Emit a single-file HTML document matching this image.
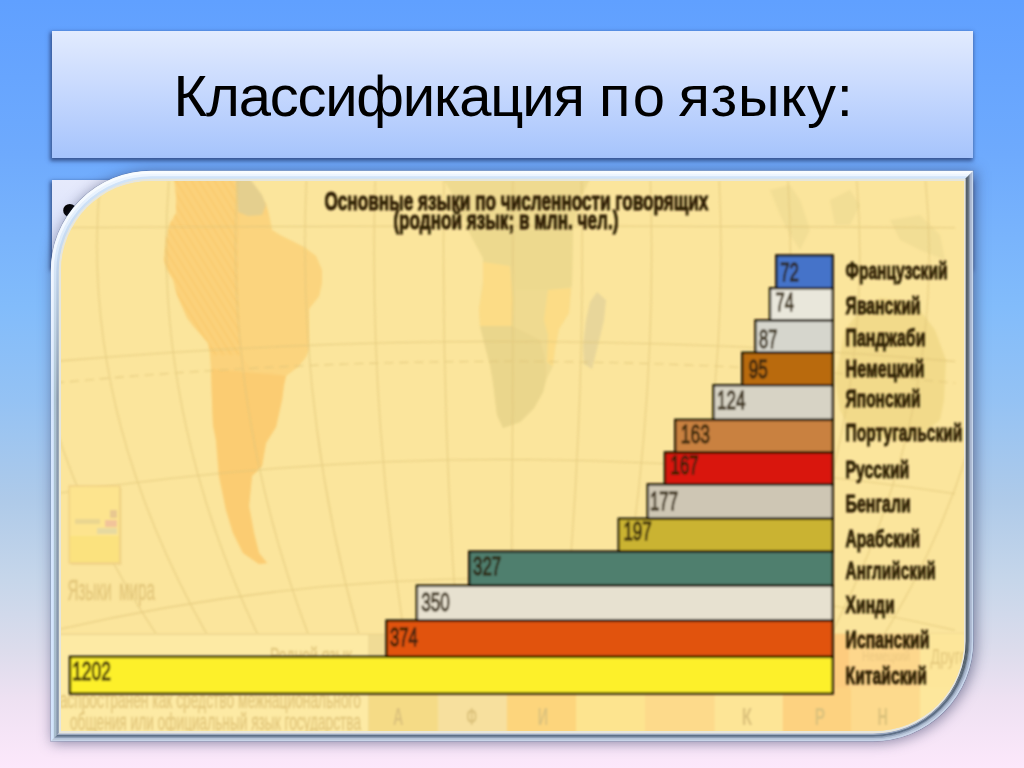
<!DOCTYPE html>
<html lang="ru"><head><meta charset="utf-8"><title>Классификация по языку</title>
<style>
html,body{margin:0;padding:0}
body{width:1024px;height:768px;overflow:hidden;position:relative;font-family:"Liberation Sans",sans-serif;
background:linear-gradient(to bottom,#60a0ff 0%,#6eaafd 20%,#82bcfb 40%,#94c2f4 52%,#aecae9 65%,#c6d6ea 75.5%,#dcdcec 84.6%,#eee1f2 91%,#fce8fb 100%)}
.title{position:absolute;left:52px;top:31px;width:921px;height:127px;
background:linear-gradient(to bottom,#e2ebfe 0%,#c6d8fe 48%,#a6c4fc 100%);
box-shadow:-1px 2px 4px 1px rgba(40,62,115,.78)}
.title h1{margin:0;position:absolute;left:0;right:0;top:0;height:127px;line-height:129px;font-weight:normal;font-size:58px;color:#000;white-space:nowrap}
.title h1 span{position:absolute;top:0}
.w1{left:121.5px;letter-spacing:-1.25px}
.w2{left:547px;letter-spacing:2.4px}
.w3{left:626.5px;letter-spacing:0.7px}
.content{position:absolute;left:52px;top:180px;width:921px;height:88px;
background:linear-gradient(to bottom,#e6eafc 0%,#d4defa 100%);box-shadow:-1px 2px 4px 1px rgba(40,62,115,.78)}
.content ul{margin:0;padding:0;list-style:none}
.content li{position:absolute;left:9.3px;top:-1.2px;font-size:49px;line-height:60px}
.shadow{position:absolute;left:51px;top:171px;width:922px;height:570px;border-radius:100px 0 100px 0;background:#dfe6f2;
box-shadow:0 0 0 .7px rgba(60,80,125,.4),2px 1px 13px 1px rgba(50,55,95,.55)}
.bevel{position:absolute;left:0;top:0;display:block}
.pic{position:absolute;left:61px;top:181px;width:903px;height:550px;border-radius:90px 0 90px 0;overflow:hidden;background:#fbe59c}
.chart{position:absolute;left:0;top:0;display:block;font-family:"Liberation Sans",sans-serif}
</style></head>
<body>
<div class="title"><h1><span class="w1">Классификация </span><span class="w2">по </span><span class="w3">языку:</span></h1></div>
<div class="content"><ul><li>•</li></ul></div>
<div class="shadow"></div>
<svg class="bevel" width="1024" height="768" viewBox="0 0 1024 768">
<defs><clipPath id="cl"><polygon points="0,0 1024,0 1024,120 973,171 873,271 151,641 51,741 0,792"/></clipPath><clipPath id="cd"><polygon points="1024,120 1024,800 0,800 0,792 51,741 151,641 873,271 973,171"/></clipPath><linearGradient id="gl1" gradientUnits="userSpaceOnUse" x1="0" y1="171" x2="0" y2="741"><stop offset="0" stop-color="#f8fcff"/><stop offset="0.2" stop-color="#eef5ff"/><stop offset="0.4" stop-color="#d6e7ff"/><stop offset="1" stop-color="#d2e4fc"/></linearGradient><linearGradient id="gl2" gradientUnits="userSpaceOnUse" x1="0" y1="171" x2="0" y2="741"><stop offset="0" stop-color="#eef6ff"/><stop offset="0.15" stop-color="#d8e8fa"/><stop offset="0.4" stop-color="#aec4d2"/><stop offset="1" stop-color="#a8bccc"/></linearGradient><linearGradient id="gl3" gradientUnits="userSpaceOnUse" x1="0" y1="171" x2="0" y2="741"><stop offset="0" stop-color="#d2e5fa"/><stop offset="0.15" stop-color="#c4d8f0"/><stop offset="0.4" stop-color="#8c9cae"/><stop offset="1" stop-color="#8696ac"/></linearGradient><linearGradient id="gd2" gradientUnits="userSpaceOnUse" x1="0" y1="171" x2="0" y2="741"><stop offset="0" stop-color="#7c8a98"/><stop offset="0.8" stop-color="#7c8a9c"/><stop offset="1" stop-color="#8c9cb8"/></linearGradient><linearGradient id="gd3" gradientUnits="userSpaceOnUse" x1="0" y1="171" x2="0" y2="741"><stop offset="0" stop-color="#46525b"/><stop offset="0.8" stop-color="#4c5866"/><stop offset="1" stop-color="#6a7e98"/></linearGradient></defs>
<g clip-path="url(#cl)">
<path d="M151.0,172.5 H971.5 V641.0 A98.5 98.5 0 0 1 873.0,739.5 H52.5 V271.0 A98.5 98.5 0 0 1 151.0,172.5 Z" fill="none" stroke="url(#gl1)" stroke-width="3.4" />
<path d="M151.0,175.25 H968.75 V641.0 A95.75 95.75 0 0 1 873.0,736.75 H55.25 V271.0 A95.75 95.75 0 0 1 151.0,175.25 Z" fill="none" stroke="url(#gl2)" stroke-width="2.9" />
<path d="M151.0,177.75 H966.25 V641.0 A93.25 93.25 0 0 1 873.0,734.25 H57.75 V271.0 A93.25 93.25 0 0 1 151.0,177.75 Z" fill="none" stroke="url(#gl3)" stroke-width="2.9" />
<path d="M151.0,180.15 H963.85 V641.0 A90.85 90.85 0 0 1 873.0,731.85 H60.15 V271.0 A90.85 90.85 0 0 1 151.0,180.15 Z" fill="none" stroke="#e6e6dc" stroke-width="2.7000000000000006" />
</g>
<g clip-path="url(#cd)">
<defs><linearGradient id="dg0" gradientUnits="userSpaceOnUse" x1="0" y1="171" x2="0" y2="741"><stop offset="0" stop-color="#c6d6ec"/><stop offset="0.84" stop-color="#c6d6ec"/><stop offset="0.975" stop-color="#c8d4e8"/><stop offset="1" stop-color="#c8d4e8"/></linearGradient><linearGradient id="dg1" gradientUnits="userSpaceOnUse" x1="0" y1="171" x2="0" y2="741"><stop offset="0" stop-color="#a9b6cf"/><stop offset="0.84" stop-color="#a9b6cf"/><stop offset="0.975" stop-color="#b4c2d6"/><stop offset="1" stop-color="#b4c2d6"/></linearGradient><linearGradient id="dg2" gradientUnits="userSpaceOnUse" x1="0" y1="171" x2="0" y2="741"><stop offset="0" stop-color="#8a98ac"/><stop offset="0.84" stop-color="#8a98ac"/><stop offset="0.975" stop-color="#8e9eb6"/><stop offset="1" stop-color="#8e9eb6"/></linearGradient><linearGradient id="dg3" gradientUnits="userSpaceOnUse" x1="0" y1="171" x2="0" y2="741"><stop offset="0" stop-color="#5a6672"/><stop offset="0.84" stop-color="#5a6672"/><stop offset="0.975" stop-color="#5e7088"/><stop offset="1" stop-color="#5e7088"/></linearGradient><linearGradient id="dg4" gradientUnits="userSpaceOnUse" x1="0" y1="171" x2="0" y2="741"><stop offset="0" stop-color="#46525b"/><stop offset="0.84" stop-color="#46525b"/><stop offset="0.975" stop-color="#9aa8c0"/><stop offset="1" stop-color="#9aa8c0"/></linearGradient><linearGradient id="dg5" gradientUnits="userSpaceOnUse" x1="0" y1="171" x2="0" y2="741"><stop offset="0" stop-color="#e8e6dc"/><stop offset="0.84" stop-color="#e8e6dc"/><stop offset="0.975" stop-color="#e8e6dc"/><stop offset="1" stop-color="#e8e6dc"/></linearGradient></defs>
<path d="M151.0,171.7 H972.3 V641.0 A99.3 99.3 0 0 1 873.0,740.3 H51.7 V271.0 A99.3 99.3 0 0 1 151.0,171.7 Z" fill="none" stroke="url(#dg0)" stroke-width="1.7999999999999998" />
<path d="M151.0,173.3 H970.7 V641.0 A97.7 97.7 0 0 1 873.0,738.7 H53.3 V271.0 A97.7 97.7 0 0 1 151.0,173.3 Z" fill="none" stroke="url(#dg1)" stroke-width="2.2" />
<path d="M151.0,174.8 H969.2 V641.0 A96.2 96.2 0 0 1 873.0,737.2 H54.8 V271.0 A96.2 96.2 0 0 1 151.0,174.8 Z" fill="none" stroke="url(#dg2)" stroke-width="1.6" />
<path d="M151.0,176.4 H967.6 V641.0 A94.6 94.6 0 0 1 873.0,735.6 H56.4 V271.0 A94.6 94.6 0 0 1 151.0,176.4 Z" fill="none" stroke="url(#dg3)" stroke-width="2.4" />
<path d="M151.0,178.0 H966.0 V641.0 A93.0 93.0 0 0 1 873.0,734.0 H58.0 V271.0 A93.0 93.0 0 0 1 151.0,178.0 Z" fill="none" stroke="url(#dg4)" stroke-width="1.5999999999999992" />
<path d="M151.0,179.95 H964.05 V641.0 A91.05 91.05 0 0 1 873.0,732.05 H59.95 V271.0 A91.05 91.05 0 0 1 151.0,179.95 Z" fill="none" stroke="url(#dg5)" stroke-width="3.100000000000001" />
</g>
</svg>
<div class="pic">
<svg class="chart" width="903" height="550" viewBox="61 181 903 550">
<defs><filter id="bl" x="-5%" y="-5%" width="110%" height="110%"><feGaussianBlur stdDeviation="1.05"/></filter><filter id="bl2" x="-5%" y="-5%" width="110%" height="110%"><feGaussianBlur stdDeviation="1.2"/></filter><pattern id="hatch" width="6.5" height="6.5" patternUnits="userSpaceOnUse" patternTransform="rotate(-32)"><rect width="3" height="6.5" fill="#f9c76a" opacity="0.5"/></pattern></defs>
<rect x="59" y="179" width="907" height="554" fill="#fbe59c"/>
<g filter="url(#bl2)">
<path d="M174,179 L176,195 L176,213 L169,225 L166,240 L164,260 L167,270 L173,280 L177,295 L183,309 L187,318 L193,326 L201,335 L208,343 L210,355 L211,369 L212,400 L213,425 L216,440 L219,476 L226,510 L233,533 L243,553 L259,564 L267,563 L259,553 L254,533 L249,506 L252,476 L262,466 L266,443 L276,427 L282,400 L284,385 L286,376 L299,366 L306,357 L309,349 L309,330 L309,309 L316,300 L319,296 L322,283 L322,270 L316,256 L304,247 L292,241 L280,235 L272,230 L269,215 L266,203 L256,192 L250,179 Z" fill="#fbd27b"/>
<path d="M240,215 L262,215 L269,215 L272,230 L280,235 L292,241 L304,247 L316,256 L322,270 L322,283 L319,296 L316,300 L309,309 L309,330 L309,349 L306,357 L299,366 L286,376 L270,372 L255,372 L244,360 L240,330 L238,280 Z" fill="#fbd783" opacity="0.45"/>
<path d="M174,179 L176,195 L176,213 L169,225 L166,240 L164,260 L167,270 L173,280 L177,295 L183,309 L187,318 L193,326 L201,335 L208,343 L210,355 L240,355 L238,280 L236,220 L235,179 Z" fill="url(#hatch)"/>
<path d="M211,369 L212,400 L213,425 L216,440 L219,476 L226,510 L233,533 L243,553 L259,564 L267,563 L259,553 L254,533 L249,506 L252,476 L262,466 L266,443 L276,427 L282,400 L284,385 L286,376 Z" fill="#fbca70" opacity="0.8"/>
<path d="M236,179 L250,179 L262,195 L266,205 L262,215 L248,216 L238,212 Z" fill="#e4cf8e"/>
<path d="M443,179 L456,200 L468,230 L476,245 L483,258 L483,280 L479,309 L480,326 L486,350 L490,365 L493,382 L497,415 L503,428 L520,422 L534,408 L543,392 L546,380 L553,366 L555,349 L559,329 L569,313 L572,280 L573,230 L580,200 L590,179 Z" fill="#efda90"/>
<path d="M468,230 L483,258 L483,262 L513,266 L516,290 L548,290 L572,286 L573,230 Z" fill="#ecd88e" opacity="0.9"/>
<path d="M480,326 L486,350 L490,365 L493,382 L497,415 L503,428 L520,422 L534,408 L543,392 L546,380 L546,362 L540,340 L520,330 L512,326 Z" fill="#ead68c"/>
<path d="M483,262 L510,266 L513,300 L512,326 L480,326 L479,309 L483,285 Z" fill="#fcdc86"/>
<path d="M548,290 L571,288 L569,313 L559,329 L555,349 L553,366 L547,362 L548,335 L544,320 Z" fill="#fcdc86"/>
<path d="M597,292 L606,300 L604,320 L598,345 L592,369 L584,364 L583,345 L586,320 L590,302 Z" fill="#e8d69a"/>
<path d="M845,330 L860,310 L880,298 L900,300 L920,310 L935,330 L946,360 L944,400 L940,420 L920,435 L900,440 L870,436 L850,430 L840,410 L835,380 Z" fill="#f2da8a"/>
<path d="M770,190 L790,185 L800,200 L810,230 L800,250 L790,235 L780,215 Z" fill="#f0dc94" opacity="0.8"/>
<path d="M830,200 L850,190 L860,205 L850,225 L835,225 Z" fill="#f0dc94" opacity="0.8"/>
<path d="M890,220 L920,215 L940,235 L945,260 L920,250 L900,240 Z" fill="#f0dc94" opacity="0.8"/>
</g>
<g filter="url(#bl)" fill="none" stroke="#e0c67a" stroke-width="1.1" opacity="0.75">
<path d="M31.2,181 Q6.2,407.5 156.1,634"/>
<path d="M100.0,181 Q78.7,407.5 206.7,634"/>
<path d="M168.8,181 Q151.1,407.5 257.4,634"/>
<path d="M237.6,181 Q223.5,407.5 308.1,634"/>
<path d="M306.4,181 Q295.9,407.5 358.7,634"/>
<path d="M375.2,181 Q367.5,434.5 413.5,688"/>
<path d="M444.0,181 Q440.4,434.5 462.0,688"/>
<path d="M512.8,181 Q513.3,434.5 510.5,688"/>
<path d="M581.6,181 Q586.1,434.5 559.0,688"/>
<path d="M650.4,181 Q659.0,434.5 607.5,688"/>
<path d="M719.2,181 Q731.8,434.5 656.0,688"/>
<path d="M788.0,181 Q804.7,434.5 704.5,688"/>
<path d="M856.8,181 Q877.6,434.5 753.0,688"/>
<path d="M925.6,181 Q950.4,434.5 801.5,688"/>
<path d="M994.4,181 Q1023.3,434.5 850.1,688"/>
<path d="M55,227.8 Q505,224.2 955,227.8"/>
<path d="M55,361.4 Q505,321.6 955,361.4"/>
<path d="M55,383.0 Q505,339.8 955,383.0" stroke-dasharray="9 6"/>
<path d="M55,493.7 Q505,425.3 955,493.7"/>
<path d="M55,630.2 Q505,526.2 955,630.2"/>
</g>
<g filter="url(#bl)">
<rect x="71" y="488" width="50.5" height="77" fill="#ecd084" opacity="0.7"/>
<rect x="69.3" y="486" width="50.5" height="77" fill="#fde48e" stroke="#efd083" stroke-width="1.5"/>
<rect x="70" y="536" width="49" height="26" fill="#fbe27e"/>
<rect x="97" y="528" width="20" height="6" fill="#e6d9a0"/><rect x="105" y="520" width="12" height="7" fill="#f2c49a"/><rect x="110" y="510" width="7" height="8" fill="#e8c890"/>
<rect x="75" y="519" width="25" height="5" fill="#ead690"/>
</g>
<g filter="url(#bl)">
<rect x="59" y="635" width="309" height="98" fill="#fdeaa4"/>
<rect x="368" y="635" width="18" height="98" fill="#f0db95"/>
<path d="M59,634.3 H386 M833,634 H966" stroke="#ead28a" stroke-width="1.2" fill="none"/>
<rect x="833" y="634" width="87.3" height="56" fill="#fdd78c"/>
<rect x="833" y="634" width="16" height="56" fill="#fdcc7e"/>
<rect x="920.3" y="634" width="45" height="56" fill="#fde69a"/>
<rect x="368.75" y="688" width="69.65" height="46" fill="#f5db86"/>
<rect x="438.1" y="688" width="69.10" height="46" fill="#f7e09e"/>
<rect x="506.9" y="688" width="69.65" height="46" fill="#fdd57c"/>
<rect x="576.25" y="688" width="69.05" height="46" fill="#fde48f"/>
<rect x="645" y="688" width="70.00" height="46" fill="#fdda8b"/>
<rect x="714.7" y="688" width="68.40" height="46" fill="#fde596"/>
<rect x="782.8" y="688" width="68.75" height="46" fill="#fdd280"/>
<rect x="851.25" y="688" width="69.35" height="46" fill="#fdda8d"/>
<rect x="920.3" y="688" width="46.00" height="46" fill="#fde79c"/>
<text x="393.1" y="725" font-size="24.5" font-weight="bold" fill="#dcc27c" textLength="10.4" lengthAdjust="spacingAndGlyphs">А</text>
<text x="466.5" y="725" font-size="24.5" font-weight="bold" fill="#dcc27c" textLength="10.4" lengthAdjust="spacingAndGlyphs">Ф</text>
<text x="537.8" y="725" font-size="24.5" font-weight="bold" fill="#dcc27c" textLength="10.4" lengthAdjust="spacingAndGlyphs">И</text>
<text x="741.8" y="725" font-size="24.5" font-weight="bold" fill="#dcc27c" textLength="10.4" lengthAdjust="spacingAndGlyphs">К</text>
<text x="814.8" y="725" font-size="24.5" font-weight="bold" fill="#dcc27c" textLength="10.4" lengthAdjust="spacingAndGlyphs">Р</text>
<text x="877.6" y="725" font-size="24.5" font-weight="bold" fill="#dcc27c" textLength="10.4" lengthAdjust="spacingAndGlyphs">Н</text>
</g>
<g filter="url(#bl)" fill="#e3c77c" font-weight="bold">
<text x="67.5" y="600" font-size="30" font-weight="normal" stroke="#e3c77c" stroke-width="0.5" word-spacing="6" textLength="87.5" lengthAdjust="spacingAndGlyphs">Языки мира</text>
<text x="270" y="663" font-size="22" font-weight="normal" stroke="#e0c67c" stroke-width="0.4" textLength="82" lengthAdjust="spacingAndGlyphs">Родной язык</text>
<text x="52" y="708" font-size="24" font-weight="normal" stroke="#e0c67c" stroke-width="0.4" textLength="309" lengthAdjust="spacingAndGlyphs">распространен как средство межнационального</text>
<text x="70" y="729.5" font-size="24" font-weight="normal" stroke="#e0c67c" stroke-width="0.4" textLength="291" lengthAdjust="spacingAndGlyphs">общения или официальный язык государства</text>
<text x="930.6" y="664" font-size="22.5" font-weight="normal" textLength="37" lengthAdjust="spacingAndGlyphs">Друго</text>
<text x="862" y="661" font-size="15" font-weight="normal" fill="#ecc880" textLength="48" lengthAdjust="spacingAndGlyphs">Немецкий</text>
</g>
<g filter="url(#bl)" font-weight="bold" fill="#2a1b03" stroke="#2a1b03" stroke-width="1">
<text x="324.4" y="210" font-size="26" textLength="384" lengthAdjust="spacingAndGlyphs">Основные языки по численности говорящих</text>
<text x="393.4" y="228.8" font-size="26" textLength="225" lengthAdjust="spacingAndGlyphs">(родной язык; в млн. чел.)</text>
</g>
<g filter="url(#bl)">
<rect x="776.30" y="255.40" width="56.4" height="32.8" fill="#4573c9" stroke="#1a1204" stroke-width="2.4"/>
<rect x="770.00" y="288.20" width="62.7" height="32.2" fill="#e9e7db" stroke="#1a1204" stroke-width="2.4"/>
<rect x="755.50" y="320.40" width="77.2" height="32.4" fill="#d6d6cd" stroke="#1a1204" stroke-width="2.4"/>
<rect x="742.30" y="352.80" width="90.4" height="32.4" fill="#b96a10" stroke="#1a1204" stroke-width="2.4"/>
<rect x="713.60" y="385.20" width="119.1" height="34.7" fill="#d7d3c5" stroke="#1a1204" stroke-width="2.4"/>
<rect x="675.30" y="419.90" width="157.4" height="32.5" fill="#c98140" stroke="#1a1204" stroke-width="2.4"/>
<rect x="664.90" y="452.40" width="167.8" height="32.0" fill="#d9190b" stroke="#1a1204" stroke-width="2.4"/>
<rect x="647.80" y="484.40" width="184.9" height="34.4" fill="#cec6b4" stroke="#1a1204" stroke-width="2.4"/>
<rect x="618.80" y="518.80" width="213.9" height="32.9" fill="#cab333" stroke="#1a1204" stroke-width="2.4"/>
<rect x="469.25" y="551.65" width="363.4" height="34.0" fill="#4f7f6e" stroke="#1a1204" stroke-width="2.4"/>
<rect x="416.90" y="585.70" width="415.8" height="34.9" fill="#e7e1d0" stroke="#1a1204" stroke-width="2.4"/>
<rect x="386.50" y="620.60" width="446.2" height="36.3" fill="#e1530b" stroke="#1a1204" stroke-width="2.4"/>
<rect x="70.00" y="656.90" width="762.7" height="36.6" fill="#fdf02a" stroke="#1a1204" stroke-width="2.4"/>
<text x="780.2" y="280.9" font-size="25" fill="#2a1e08" stroke="#2a1e08" stroke-width="1.3" opacity="0.84" textLength="18.7" lengthAdjust="spacingAndGlyphs">72</text>
<text x="845.6" y="279.4" font-size="24" font-weight="bold" fill="#2b1d05" stroke="#2b1d05" stroke-width="0.9" textLength="102.0" lengthAdjust="spacingAndGlyphs">Французский</text>
<text x="775.5" y="311.3" font-size="25" fill="#2a1e08" stroke="#2a1e08" stroke-width="1.3" opacity="0.84" textLength="18.4" lengthAdjust="spacingAndGlyphs">74</text>
<text x="845.6" y="313.6" font-size="24" font-weight="bold" fill="#2b1d05" stroke="#2b1d05" stroke-width="0.9" textLength="74.9" lengthAdjust="spacingAndGlyphs">Яванский</text>
<text x="759.1" y="348.0" font-size="25" fill="#2a1e08" stroke="#2a1e08" stroke-width="1.3" opacity="0.84" textLength="18.4" lengthAdjust="spacingAndGlyphs">87</text>
<text x="845.6" y="345.7" font-size="24" font-weight="bold" fill="#2b1d05" stroke="#2b1d05" stroke-width="0.9" textLength="79.8" lengthAdjust="spacingAndGlyphs">Панджаби</text>
<text x="748.7" y="378.2" font-size="25" fill="#2a1e08" stroke="#2a1e08" stroke-width="1.3" opacity="0.84" textLength="19.0" lengthAdjust="spacingAndGlyphs">95</text>
<text x="845.6" y="376.7" font-size="24" font-weight="bold" fill="#2b1d05" stroke="#2b1d05" stroke-width="0.9" textLength="78.7" lengthAdjust="spacingAndGlyphs">Немецкий</text>
<text x="717.1" y="408.6" font-size="25" fill="#2a1e08" stroke="#2a1e08" stroke-width="1.3" opacity="0.84" textLength="28.3" lengthAdjust="spacingAndGlyphs">124</text>
<text x="845.6" y="406.7" font-size="24" font-weight="bold" fill="#2b1d05" stroke="#2b1d05" stroke-width="0.9" textLength="74.9" lengthAdjust="spacingAndGlyphs">Японский</text>
<text x="680.7" y="443.0" font-size="25" fill="#2a1e08" stroke="#2a1e08" stroke-width="1.3" opacity="0.84" textLength="29.2" lengthAdjust="spacingAndGlyphs">163</text>
<text x="845.6" y="441.2" font-size="24" font-weight="bold" fill="#2b1d05" stroke="#2b1d05" stroke-width="0.9" textLength="116.7" lengthAdjust="spacingAndGlyphs">Португальский</text>
<text x="670.6" y="473.6" font-size="25" fill="#2a1e08" stroke="#2a1e08" stroke-width="1.3" opacity="0.84" textLength="28.0" lengthAdjust="spacingAndGlyphs">167</text>
<text x="845.6" y="477.5" font-size="24" font-weight="bold" fill="#2b1d05" stroke="#2b1d05" stroke-width="0.9" textLength="63.7" lengthAdjust="spacingAndGlyphs">Русский</text>
<text x="650.0" y="509.9" font-size="25" fill="#2a1e08" stroke="#2a1e08" stroke-width="1.3" opacity="0.84" textLength="28.0" lengthAdjust="spacingAndGlyphs">177</text>
<text x="845.6" y="512" font-size="24" font-weight="bold" fill="#2b1d05" stroke="#2b1d05" stroke-width="0.9" textLength="65.2" lengthAdjust="spacingAndGlyphs">Бенгали</text>
<text x="623.4" y="540.2" font-size="25" fill="#2a1e08" stroke="#2a1e08" stroke-width="1.3" opacity="0.84" textLength="28.4" lengthAdjust="spacingAndGlyphs">197</text>
<text x="845.6" y="546.6" font-size="24" font-weight="bold" fill="#2b1d05" stroke="#2b1d05" stroke-width="0.9" textLength="74.4" lengthAdjust="spacingAndGlyphs">Арабский</text>
<text x="473.1" y="574.8" font-size="25" fill="#2a1e08" stroke="#2a1e08" stroke-width="1.3" opacity="0.84" textLength="28.1" lengthAdjust="spacingAndGlyphs">327</text>
<text x="845.6" y="579.1" font-size="24" font-weight="bold" fill="#2b1d05" stroke="#2b1d05" stroke-width="0.9" textLength="90.2" lengthAdjust="spacingAndGlyphs">Английский</text>
<text x="421.3" y="611.2" font-size="25" fill="#2a1e08" stroke="#2a1e08" stroke-width="1.3" opacity="0.84" textLength="28.6" lengthAdjust="spacingAndGlyphs">350</text>
<text x="845.6" y="613.2" font-size="24" font-weight="bold" fill="#2b1d05" stroke="#2b1d05" stroke-width="0.9" textLength="49.0" lengthAdjust="spacingAndGlyphs">Хинди</text>
<text x="390.0" y="645.9" font-size="25" fill="#2a1e08" stroke="#2a1e08" stroke-width="1.3" opacity="0.84" textLength="27.9" lengthAdjust="spacingAndGlyphs">374</text>
<text x="845.6" y="647.5" font-size="24" font-weight="bold" fill="#2b1d05" stroke="#2b1d05" stroke-width="0.9" textLength="83.8" lengthAdjust="spacingAndGlyphs">Испанский</text>
<text x="72.2" y="680.2" font-size="25" fill="#2a1e08" stroke="#2a1e08" stroke-width="1.3" opacity="0.84" textLength="38.6" lengthAdjust="spacingAndGlyphs">1202</text>
<text x="845.6" y="684" font-size="24" font-weight="bold" fill="#2b1d05" stroke="#2b1d05" stroke-width="0.9" textLength="81.2" lengthAdjust="spacingAndGlyphs">Китайский</text>
</g>
</svg>
</div>
</body></html>
